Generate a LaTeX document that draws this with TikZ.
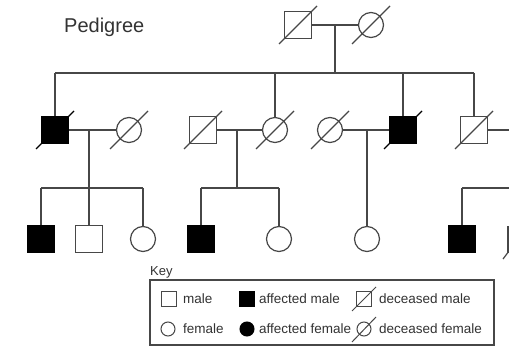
\documentclass[tikz,border=0pt]{standalone}
\usepackage{fontspec}
\setmainfont{Liberation Sans}
\newcommand\deceased[3][black!72]{\draw[ln,draw=#1] ([shift={(-#3,#3)}]#2.center) -- ([shift={(#3,-#3)}]#2.center);}
\begin{document}
\begin{tikzpicture}[x=1pt,y=-1pt,
  ln/.style={draw=black!72,line width=1.2pt},
  male/.style={draw=black!72,line width=1.2pt,rectangle,minimum size=27pt,inner sep=0pt,fill=white},
  amale/.style={male,fill=black,draw=black},
  fem/.style={draw=black!72,line width=1.2pt,circle,minimum size=25pt,inner sep=0pt,fill=white},
  kmale/.style={draw=black!72,line width=1pt,rectangle,minimum size=15pt,inner sep=0pt,fill=white},
  kamale/.style={kmale,fill=black,draw=black},
  kfem/.style={draw=black!72,line width=1pt,circle,minimum size=14pt,inner sep=0pt,fill=white},
  kafem/.style={kfem,fill=black,draw=black},
  ktext/.style={anchor=west,inner sep=0pt,text=black!80,font=\fontsize{13.5}{14}\selectfont},
]
\useasboundingbox (0,0) rectangle (509,350);
\fill[white] (0,0) rectangle (509,350);

\node[anchor=west,inner sep=0pt,text=black!80,font=\fontsize{20}{22}\selectfont] (title) at (64,27) {Pedigree};

% coordinates of the connector lines
\coordinate (c0) at (335,25);
\coordinate (s0) at (335,73);
\coordinate (s0l) at (55,73);
\coordinate (s0d) at (275,73);
\coordinate (s0f) at (403,73);
\coordinate (s0r) at (474,73);
\coordinate (c1) at (89,130);
\coordinate (s1) at (89,188);
\coordinate (s1l) at (41,188);
\coordinate (s1r) at (143,188);
\coordinate (c2) at (237,130);
\coordinate (s2) at (237,188);
\coordinate (s2l) at (201,188);
\coordinate (s2r) at (279,188);
\coordinate (c3) at (367,130);
\coordinate (gr) at (509,130);
\coordinate (s4l) at (462,188);
\coordinate (s4r) at (509,188);
\coordinate (px1) at (508,226);
\coordinate (px2) at (508,253);
\coordinate (pd1) at (503,259);
\coordinate (pd2) at (509,251);

% generation I
\node[male] (g1m) at (298,25) {};
\node[fem] (g1f) at (371,25) {};
% generation II
\node[amale] (A) at (55,130) {};
\node[fem] (B) at (129,130) {};
\node[male] (C) at (203,130) {};
\node[fem] (D) at (275,130) {};
\node[fem] (E) at (330,130) {};
\node[amale] (F) at (403,130) {};
\node[male] (G) at (474,130) {};
% generation III
\node[amale] (H) at (41,239) {};
\node[male] (I) at (89,239) {};
\node[fem] (J) at (143,239) {};
\node[amale] (K) at (201,239) {};
\node[fem] (L) at (279,239) {};
\node[fem] (M) at (367,239) {};
\node[amale] (N) at (462,239) {};

% connectors
\draw[ln] (g1m) -- (g1f);
\draw[ln] (c0) -- (s0);
\draw[ln] (s0l) -- (s0r);
\draw[ln] (s0l) -- (A);
\draw[ln] (s0d) -- (D);
\draw[ln] (s0f) -- (F);
\draw[ln] (s0r) -- (G);
\draw[ln] (A) -- (B);
\draw[ln] (c1) -- (s1);
\draw[ln] (s1l) -- (s1r);
\draw[ln] (s1l) -- (H);
\draw[ln] (s1) -- (I);
\draw[ln] (s1r) -- (J);
\draw[ln] (C) -- (D);
\draw[ln] (c2) -- (s2);
\draw[ln] (s2l) -- (s2r);
\draw[ln] (s2l) -- (K);
\draw[ln] (s2r) -- (L);
\draw[ln] (E) -- (F);
\draw[ln] (c3) -- (M);
\draw[ln] (G) -- (gr);
\draw[ln] (s4l) -- (s4r);
\draw[ln] (s4l) -- (N);
\draw[ln] (px1) -- (px2);
\draw[ln] (pd1) -- (pd2);

% deceased marks
\deceased{g1m}{19}
\deceased{g1f}{19}
\deceased[black]{A}{19}
\deceased{B}{19}
\deceased{C}{19}
\deceased{D}{19}
\deceased{E}{19}
\deceased[black]{F}{19}
\deceased{G}{19}

% key
\node[anchor=west,inner sep=0pt,text=black!80,font=\fontsize{13}{14}\selectfont] (keylbl) at (150,272) {Key};
\draw[draw=black!72,line width=1.2pt] (150,280) rectangle (494,345);
\node[kmale] (k1) at (169,299) {};
\node[ktext] (t1) at (183,299) {male};
\node[kamale] (k2) at (247,299) {};
\node[ktext] (t2) at (259,299) {affected male};
\node[kmale] (k3) at (364,299) {};
\node[ktext] (t3) at (379,299) {deceased male};
\node[kfem] (k4) at (168,329) {};
\node[ktext] (t4) at (183,329) {female};
\node[kafem] (k5) at (247,329) {};
\node[ktext] (t5) at (259,329) {affected female};
\node[kfem] (k6) at (364,329) {};
\node[ktext] (t6) at (379,329) {deceased female};
\draw[draw=black!72,line width=1pt] ([shift={(-12,12)}]k3.center) -- ([shift={(12,-12)}]k3.center);
\draw[draw=black!72,line width=1pt] ([shift={(-12,13)}]k6.center) -- ([shift={(12,-12)}]k6.center);
\end{tikzpicture}
\end{document}
